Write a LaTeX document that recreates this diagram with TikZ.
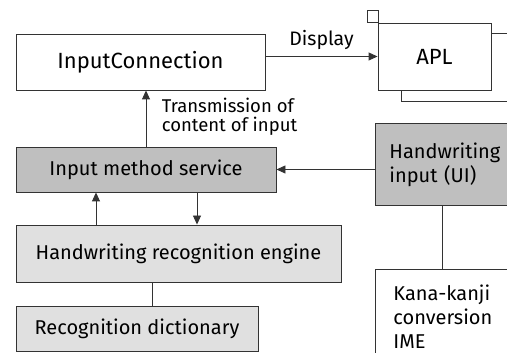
\documentclass[tikz,border=0pt]{standalone}
\usepackage{fontspec}
\setmainfont{Fira Sans}
\usetikzlibrary{arrows.meta}
\definecolor{servicegray}{gray}{0.75}
\definecolor{enginegray}{gray}{0.88}
\definecolor{linegray}{gray}{0.2}

\begin{document}
\begin{tikzpicture}[x=1pt,y=1pt,
    box/.style={draw=linegray, line width=0.9pt, inner sep=0pt, fill=white,
        font=\fontsize{20}{24}\selectfont},
    arr/.style={draw=linegray, line width=0.9pt, -{Triangle[length=9pt,width=8pt]}},
    conn/.style={draw=linegray, line width=0.9pt}]
    \path[use as bounding box, clip] (0,0) rectangle (507,353);

    % application windows (stacked)
    \node[box, minimum width=11, minimum height=12] (aplback) at (372.5,336.5) {};
    \node[box, minimum width=140, minimum height=68] (aplfront) at (471,286) {};
    \node[box, minimum width=113, minimum height=67, font=\fontsize{22}{24}\selectfont] (apl) at (434.5,296.5) {APL};

    \node[box, minimum width=249, minimum height=56, font=\fontsize{22}{24}\selectfont] (ic) at (140.5,291) {InputConnection};
    \node[box, fill=servicegray, minimum width=260, minimum height=45] (ims) at (146,183.5) {Input method service};
    \node[box, fill=enginegray, minimum width=325, minimum height=57] (hre) at (178.5,99.5) {Handwriting recognition engine};
    \node[box, fill=enginegray, minimum width=242, minimum height=45] (rd) at (137,24.5) {Recognition dictionary};

    \node[box, fill=servicegray, anchor=north west, minimum height=82, text width=120,
        inner xsep=14, align=left] (hwui) at (375,230) {Handwriting\\input (UI)};
    \node[box, anchor=north west, text width=120, inner xsep=18, inner ysep=15,
        align=left] (kk) at (375,84) {Kana-kanji\\conversion\\IME};

    % connectors
    \draw[arr] (ic.east |- apl.west) -- (apl.west)
        node[midway, above=3pt, font=\fontsize{19.5}{24}\selectfont] (disp) {Display};
    \draw[arr] (ims.north) -- (ims.north |- ic.south)
        node[midway, anchor=west, xshift=12, yshift=2, align=left,
            font=\fontsize{18.5}{19}\selectfont] (trans) {Transmission of\\content of input};
    \draw[arr] (hwui.west |- ims.east) -- (ims.east);
    \draw[arr] (hre.north -| 96,0) -- (ims.south -| 96,0);
    \draw[arr] (ims.south -| 197,0) -- (hre.north -| 197,0);
    \draw[conn] (hre.south -| 152,0) -- (rd.north -| 152,0);
    \draw[conn] (hwui.south -| 442,0) -- (kk.north -| 442,0);
\end{tikzpicture}
\end{document}
